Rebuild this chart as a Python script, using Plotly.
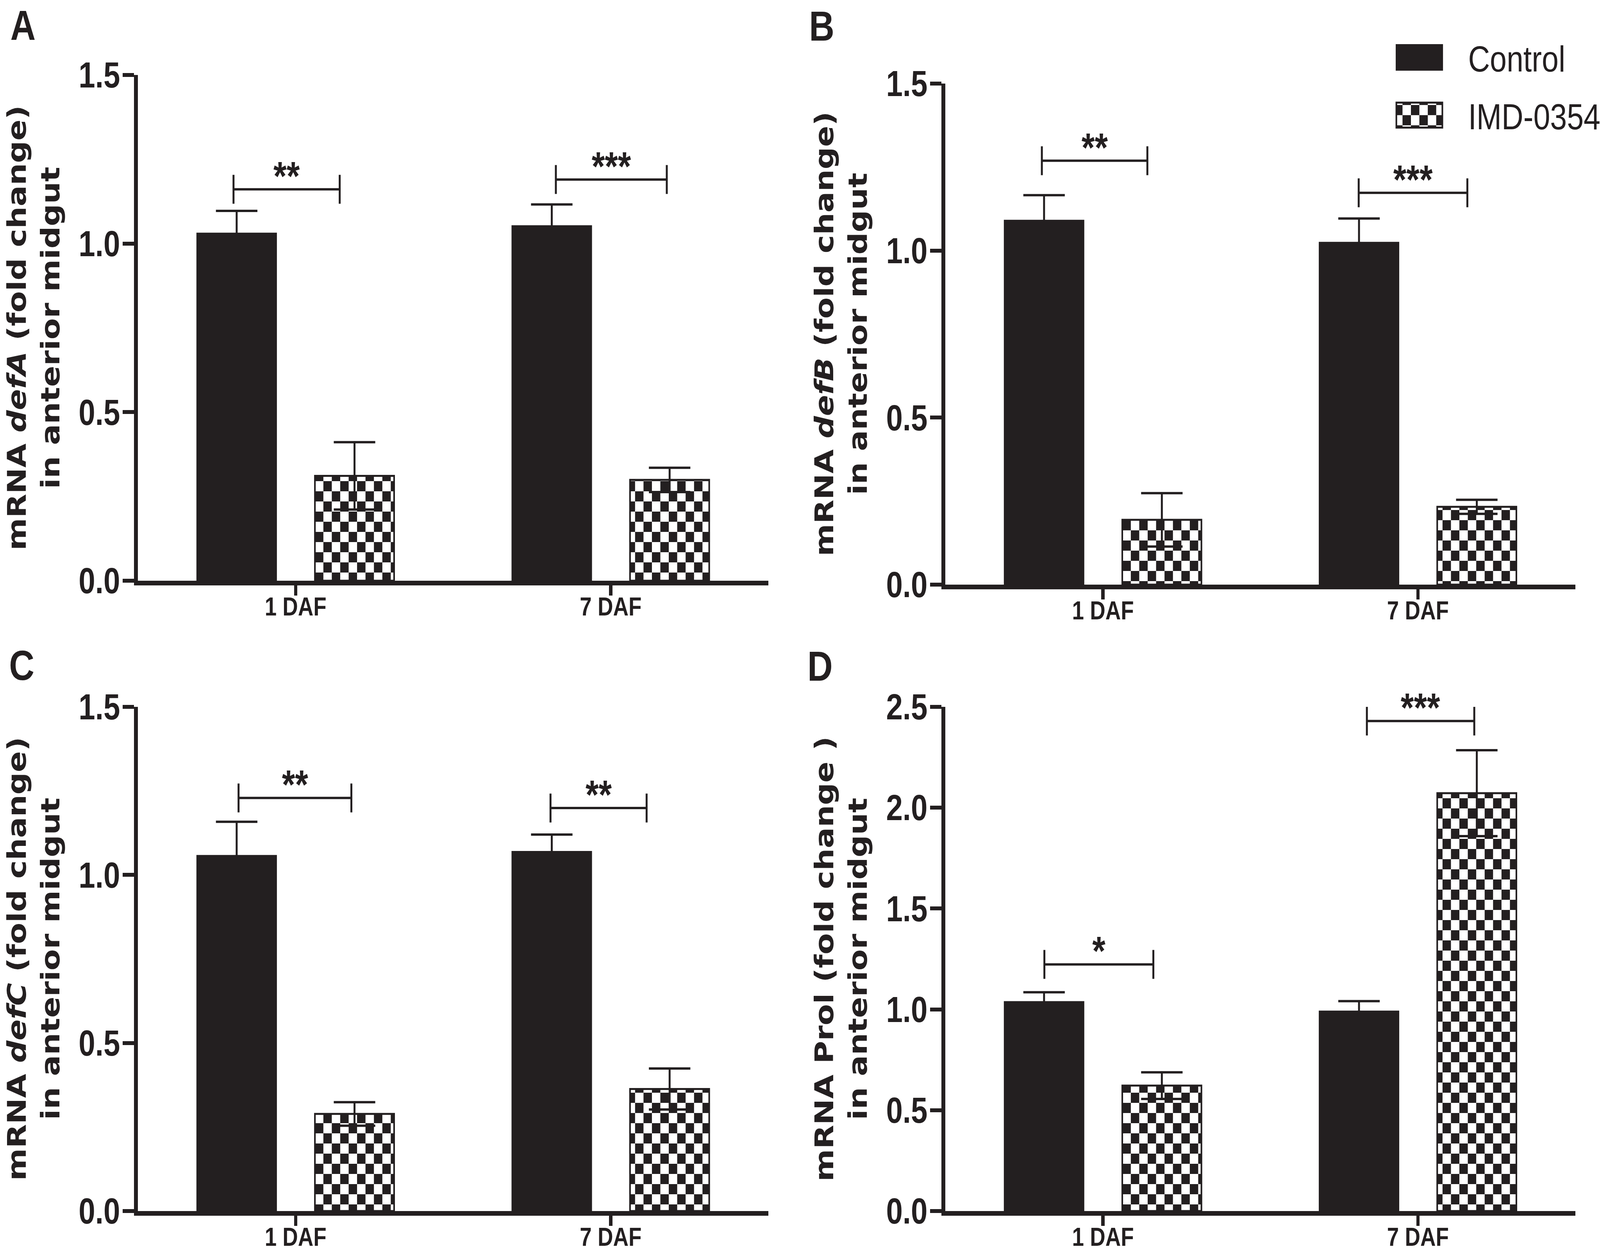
import plotly.graph_objects as go
from plotly.subplots import make_subplots

# data (fold change, mean and SEM)
categories = ["1 DAF", "7 DAF"]

ctrl_a = [1.03, 1.052]
ctrl_a_err = [0.067, 0.064]
imd_a = [0.311, 0.299]
imd_a_err = [0.10, 0.036]

ctrl_b = [1.09, 1.024]
ctrl_b_err = [0.076, 0.072]
imd_b = [0.194, 0.233]
imd_b_err = [0.08, 0.021]

ctrl_c = [1.057, 1.069]
ctrl_c_err = [0.101, 0.051]
imd_c = [0.289, 0.363]
imd_c_err = [0.035, 0.061]

ctrl_d = [1.037, 0.99]
ctrl_d_err = [0.048, 0.051]
imd_d = [0.622, 2.072]
imd_d_err = [0.066, 0.213]

# significance brackets: height and label per time point
sig_a_y = [1.161, 1.190]
sig_a_text = ["**", "***"]
sig_b_y = [1.269, 1.173]
sig_b_text = ["**", "***"]
sig_c_y = [1.229, 1.199]
sig_c_text = ["**", "**"]
sig_d_y = [1.223, 2.430]
sig_d_text = ["*", "***"]

# bracket ends (in category units) as drawn in the figure
sig_a_span = [(-0.197, 0.140), (0.826, 1.178)]
sig_b_span = [(-0.194, 0.141), (0.812, 1.157)]
sig_c_span = [(-0.181, 0.177), (0.809, 1.114)]
sig_d_span = [(-0.186, 0.160), (0.838, 1.179)]

W, H = 4938, 3211
DARK = "#231f20"
TICK_FONT = "Liberation Sans, Arial, sans-serif"
TITLE_FONT = "DejaVu Sans, Verdana, sans-serif"


def px_x(p):
    return p / W


def px_y(p):
    return 1 - p / H


panels = [
    dict(letter="A", row=1, col=1, ctrl=ctrl_a, ctrl_err=ctrl_a_err, imd=imd_a, imd_err=imd_a_err,
         sig_y=sig_a_y, sig_text=sig_a_text, sig_span=sig_a_span, ymax=1.5,
         title="mRNA <i>defA</i> (fold change)<br>in anterior midgut",
         box=(426, 2371, 192, 1487), letter_pos=(71, 64)),
    dict(letter="B", row=1, col=2, ctrl=ctrl_b, ctrl_err=ctrl_b_err, imd=imd_b, imd_err=imd_b_err,
         sig_y=sig_b_y, sig_text=sig_b_text, sig_span=sig_b_span, ymax=1.5,
         title="mRNA <i>defB</i> (fold change)<br>in anterior midgut",
         box=(2918, 4862, 214, 1497), letter_pos=(2536, 66)),
    dict(letter="C", row=2, col=1, ctrl=ctrl_c, ctrl_err=ctrl_c_err, imd=imd_c, imd_err=imd_c_err,
         sig_y=sig_c_y, sig_text=sig_c_text, sig_span=sig_c_span, ymax=1.5,
         title="mRNA <i>defC</i> (fold change)<br>in anterior midgut",
         box=(426, 2371, 1810, 3101), letter_pos=(67, 1703)),
    dict(letter="D", row=2, col=2, ctrl=ctrl_d, ctrl_err=ctrl_d_err, imd=imd_d, imd_err=imd_d_err,
         sig_y=sig_d_y, sig_text=sig_d_text, sig_span=sig_d_span, ymax=2.5,
         title="mRNA Prol (fold change )<br>in anterior midgut",
         box=(2918, 4862, 1810, 3101), letter_pos=(2531, 1705)),
]

fig = make_subplots(rows=2, cols=2)

for i, p in enumerate(panels):
    fig.add_trace(go.Bar(
        x=categories, y=p["ctrl"], name="Control", legendgroup="ctrl",
        showlegend=(i == 0),
        marker=dict(color=DARK, line=dict(color=DARK, width=4)),
        error_y=dict(type="data", array=p["ctrl_err"], visible=True,
                     color=DARK, thickness=6, width=64),
    ), row=p["row"], col=p["col"])
    fig.add_trace(go.Bar(
        x=categories, y=p["imd"], name="IMD-0354", legendgroup="imd",
        showlegend=(i == 0),
        marker=dict(color="white", line=dict(color=DARK, width=5),
                    pattern=dict(shape="+", size=52, solidity=0.5,
                                 fgcolor=DARK, bgcolor="white", fillmode="replace")),
        error_y=dict(type="data", array=p["imd_err"], visible=True,
                     color=DARK, thickness=6, width=64),
    ), row=p["row"], col=p["col"])

annotations = []
shapes = []
for i, p in enumerate(panels):
    n = "" if i == 0 else str(i + 1)
    x0, x1, ytop, ybot = p["box"]
    fig.layout["xaxis" + n].update(
        domain=[px_x(x0), px_x(x1)], type="category", range=[-0.5, 1.5],
        showline=True, linewidth=12, linecolor=DARK,
        ticks="outside", ticklen=26, tickwidth=10, tickcolor=DARK,
        ticklabelstandoff=-28,
        tickfont=dict(family=TICK_FONT, size=66, color=DARK, weight="bold"),
        showgrid=False, zeroline=False,
    )
    tickvals = [k * 0.5 for k in range(int(p["ymax"] / 0.5) + 1)]
    fig.layout["yaxis" + n].update(
        domain=[px_y(ybot), px_y(ytop)], range=[0, p["ymax"]],
        tickvals=tickvals, ticktext=[f"{v:.1f}" for v in tickvals],
        showline=True, linewidth=12, linecolor=DARK,
        ticks="outside", ticklen=35, tickwidth=10, tickcolor=DARK,
        ticklabelstandoff=-10,
        tickfont=dict(family=TICK_FONT, size=92, color=DARK, weight="bold"),
        showgrid=False, zeroline=False,
    )

    # y title, panel letter
    annotations.append(dict(
        xref="paper", yref="paper", x=px_x(x0 - 322), y=px_y((ytop + ybot) / 2),
        text=p["title"], textangle=-90, showarrow=False,
        xanchor="center", yanchor="middle",
        font=dict(family=TITLE_FONT, size=80, color=DARK, weight="bold"),
    ))
    annotations.append(dict(
        xref="paper", yref="paper", x=px_x(p["letter_pos"][0]), y=px_y(p["letter_pos"][1]),
        text=p["letter"], showarrow=False, xanchor="center", yanchor="middle",
        font=dict(family=TICK_FONT, size=108, color=DARK, weight="bold"),
    ))

    # significance brackets
    for (sx0, sx1), sy, st in zip(p["sig_span"], p["sig_y"], p["sig_text"]):
        line = dict(color=DARK, width=6)
        shapes.append(dict(type="line", xref="x" + n, yref="y" + n,
                           x0=sx0, x1=sx1, y0=sy, y1=sy, line=line))
        for sx in (sx0, sx1):
            shapes.append(dict(type="line", xref="x" + n, yref="y" + n,
                               x0=sx, x1=sx, ysizemode="pixel", yanchor=sy,
                               y0=-37, y1=37, line=line))
        annotations.append(dict(
            xref="x" + n, yref="y" + n, x=(sx0 + sx1) / 2, y=sy, text=st,
            showarrow=False, xanchor="center", yanchor="middle", yshift=34,
            font=dict(family=TICK_FONT, size=104, color=DARK, weight="bold"),
        ))

fig.update_layout(
    width=W, height=H, autosize=False,
    margin=dict(l=0, r=0, t=0, b=0, autoexpand=False),
    paper_bgcolor="white", plot_bgcolor="white",
    barmode="group", bargap=0.252, bargroupgap=0.328,
    showlegend=True,
    legend=dict(
        x=px_x(4230), y=px_y(80), xanchor="left", yanchor="top",
        font=dict(family=TICK_FONT, size=93, color=DARK),
        itemwidth=291, tracegroupgap=24, bgcolor="rgba(0,0,0,0)",
    ),
    annotations=annotations,
    shapes=shapes,
)

# plotly has no checkerboard pattern and a fixed legend swatch size,
# so redraw the pattern tiles and enlarge the swatches after every draw.
# The browser window can be narrower than the figure, so the figure is
# stretched to fill the window.
post_js = """
var gd = document.getElementById('{plot_id}');
var NS = 'http://www.w3.org/2000/svg';
function restyleMarks() {
  gd.querySelectorAll('pattern').forEach(function(p) {
    if (p.getAttribute('data-checker')) return;
    var s = 52, h = s / 2;
    p.setAttribute('data-checker', '1');
    p.setAttribute('width', s);
    p.setAttribute('height', s);
    p.removeAttribute('patternTransform');
    while (p.firstChild) p.removeChild(p.firstChild);
    [[0, 0, s, s, '#ffffff'], [0, 0, h, h, '#231f20'], [h, h, h, h, '#231f20']].forEach(function(r) {
      var el = document.createElementNS(NS, 'rect');
      el.setAttribute('x', r[0]); el.setAttribute('y', r[1]);
      el.setAttribute('width', r[2]); el.setAttribute('height', r[3]);
      el.setAttribute('fill', r[4]);
      p.appendChild(el);
    });
  });
  gd.querySelectorAll('g.legendpoints path').forEach(function(p) {
    p.setAttribute('d', 'M71,32H-71V-32H71Z');
  });
}
restyleMarks();
gd.on('plotly_afterplot', restyleMarks);
setTimeout(restyleMarks, 300);
document.body.style.margin = '0';
document.body.style.overflow = 'hidden';
var kx = window.innerWidth / 4938, ky = window.innerHeight / 3211;
gd.style.transformOrigin = '0 0';
gd.style.transform = 'scale(' + kx + ',' + ky + ')';
"""

fig.write_html("out.html", post_script=post_js, config={"displayModeBar": False})
